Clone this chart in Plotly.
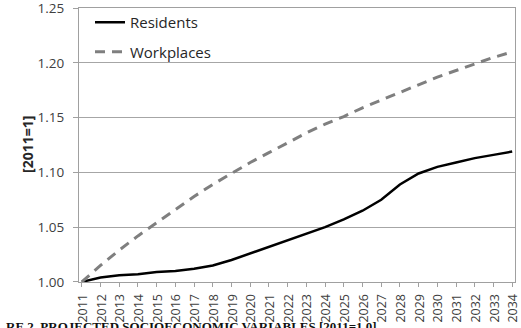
import plotly.graph_objects as go

years = list(range(2011, 2035))
year_labels = [str(y) for y in years]
residents = [1.000, 1.004, 1.006, 1.007, 1.009, 1.010, 1.012, 1.015, 1.020, 1.026,
             1.032, 1.038, 1.044, 1.050, 1.057, 1.065, 1.075, 1.089, 1.099, 1.105,
             1.109, 1.113, 1.116, 1.119]
workplaces = [1.000, 1.015, 1.029, 1.042, 1.054, 1.066, 1.078, 1.089, 1.099, 1.109,
              1.118, 1.127, 1.136, 1.144, 1.151, 1.159, 1.166, 1.173, 1.180, 1.187,
              1.193, 1.199, 1.205, 1.210]
y_ticks = [1.00, 1.05, 1.10, 1.15, 1.20, 1.25]
y_ticktext = ["1.00", "1.05", "1.10", "1.15", "1.20", "1.25"]

W, H = 521, 328
L, R, T, B = 79, 6, 8, 46

fig = go.Figure()
fig.add_trace(go.Scatter(x=years, y=residents, mode="lines", name="Residents",
                         legendgroup="a",
                         line=dict(color="#000000", width=2.5)))
fig.add_trace(go.Scatter(x=years, y=workplaces, mode="lines", name="Workplaces",
                         legendgroup="b",
                         line=dict(color="#7f7f7f", width=3, dash="10px,7px")))

fig.update_layout(
    width=W, height=H,
    margin=dict(l=L, r=R, t=T, b=B, pad=0, autoexpand=False),
    paper_bgcolor="white", plot_bgcolor="white",
    font=dict(family="Open Sans", color="#404040"),
    showlegend=True,
    legend=dict(x=(90 - L) / (W - L - R), y=1 - (6 - T) / (H - T - B),
                xanchor="left", yanchor="top",
                bgcolor="rgba(0,0,0,0)", traceorder="grouped", tracegroupgap=7,
                font=dict(family="Open Sans", size=15, color="#262626")),
    xaxis=dict(range=[2010.85, 2034.15], tickmode="array", tickvals=years, ticktext=year_labels,
               tickangle=-90, tickfont=dict(size=12.5, color="#404040"),
               ticklabelstandoff=2, ticklabelshift=1, ticklabeloverflow="allow",
               automargin=False,
               showgrid=False, zeroline=False,
               showline=True, linecolor="#a0a0a0", linewidth=1, mirror=True,
               ticks="outside", ticklen=4, tickcolor="#a0a0a0"),
    yaxis=dict(range=[0.9999, 1.2501], tickmode="array", tickvals=y_ticks, ticktext=y_ticktext,
               tickfont=dict(size=13.5, color="#404040"),
               ticklabelstandoff=6, ticklabeloverflow="allow", automargin=False,
               showgrid=True, gridcolor="#a6a6a6", gridwidth=1, zeroline=False,
               showline=True, linecolor="#a0a0a0", linewidth=1, mirror=True,
               ticks="outside", ticklen=5, tickcolor="#a0a0a0"),
)

fig.add_annotation(text="<b>[2011=1]</b>", xref="paper", yref="paper",
                   x=(27 - L) / (W - L - R), y=0.5, xanchor="center", yanchor="middle",
                   textangle=-90, showarrow=False,
                   font=dict(family="Open Sans", size=14, color="#262626"))
fig.add_annotation(text="<b>RE 2. PROJECTED SOCIOECONOMIC VARIABLES [2011=1.0]</b>",
                   xref="paper", yref="paper",
                   x=(4 - L) / (W - L - R), y=-(317 - (H - B)) / (H - T - B),
                   xanchor="left", yanchor="top", showarrow=False,
                   font=dict(family="Liberation Serif", size=13, color="#111111"))

fig.write_html("out.html")
